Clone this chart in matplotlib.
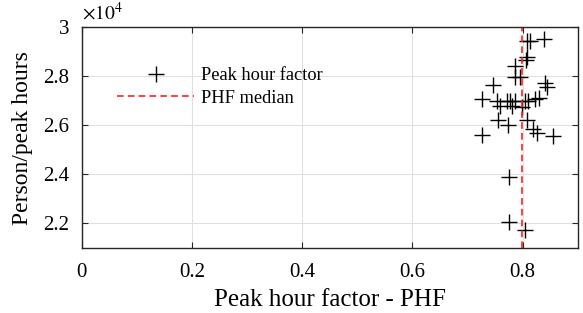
import numpy as np
import matplotlib
matplotlib.use("Agg")
import matplotlib.pyplot as plt
from matplotlib.ticker import FuncFormatter

plt.rcParams['font.family'] = ['Liberation Serif', 'DejaVu Serif']
plt.rcParams['mathtext.fontset'] = 'stix'

# datos
phf = [0.808, 0.814, 0.838, 0.808, 0.806, 0.786, 0.786, 0.796, 0.841, 0.845,
       0.747, 0.726, 0.753, 0.771, 0.777, 0.786, 0.805, 0.810, 0.823, 0.829,
       0.759, 0.780, 0.798, 0.756, 0.808, 0.774, 0.819, 0.826, 0.727, 0.856,
       0.775, 0.775, 0.805]
persons = [29450, 29450, 29530, 28800, 28650, 28420, 27980, 27980, 27710, 27580,
           27640, 27060, 27000, 27000, 27000, 27000, 27000, 27000, 27060, 27120,
           26800, 26800, 26750, 26220, 26220, 26010, 25850, 25700, 25600, 25560,
           23880, 22070, 21730]
xticks = [0, 0.2, 0.4, 0.6, 0.8]
yticks = [22000, 24000, 26000, 28000, 30000]

phf_median = np.median(phf)

fig = plt.figure(figsize=(5.83, 3.13), dpi=100)
ax = fig.add_axes([0.14, 0.208, 0.851, 0.705])

ax.plot(phf, persons, '+', color='k', ms=11, mew=1.0, label='Peak hour factor')
ax.axvline(phf_median, color='#ff2020', ls=(0, (4, 2.5)), lw=1.2, label='PHF median')

ax.set_xlim(0, 0.9)
ax.set_ylim(21000, 30000)
ax.set_xticks(xticks)
ax.set_yticks(yticks)
ax.xaxis.set_major_formatter(FuncFormatter(lambda v, p: '%g' % v))
ax.yaxis.set_major_formatter(FuncFormatter(lambda v, p: '%g' % (v / 1e4)))
ax.text(0.0, 1.015, r'$\times 10^4$', transform=ax.transAxes, fontsize=14,
        ha='left', va='bottom')

ax.grid(True, color='#e0e0e0', lw=0.8)
ax.set_axisbelow(True)
ax.tick_params(direction='in', top=True, right=True, labelsize=15,
               length=4, color='#262626')
ax.tick_params(axis='x', pad=11)
ax.tick_params(axis='y', pad=9)
for s in ax.spines.values():
    s.set_color('#262626')
    s.set_linewidth(1.0)

ax.set_xlabel('Peak hour factor - PHF', fontsize=18, labelpad=5)
ax.set_ylabel('Person/peak hours', fontsize=17, labelpad=7)

leg = ax.legend(loc='upper left', bbox_to_anchor=(0.039, 0.893), frameon=False,
                fontsize=13.2, handlelength=4.15, handletextpad=0.4,
                labelspacing=0.3)

fig.savefig('out.png', dpi=100)
